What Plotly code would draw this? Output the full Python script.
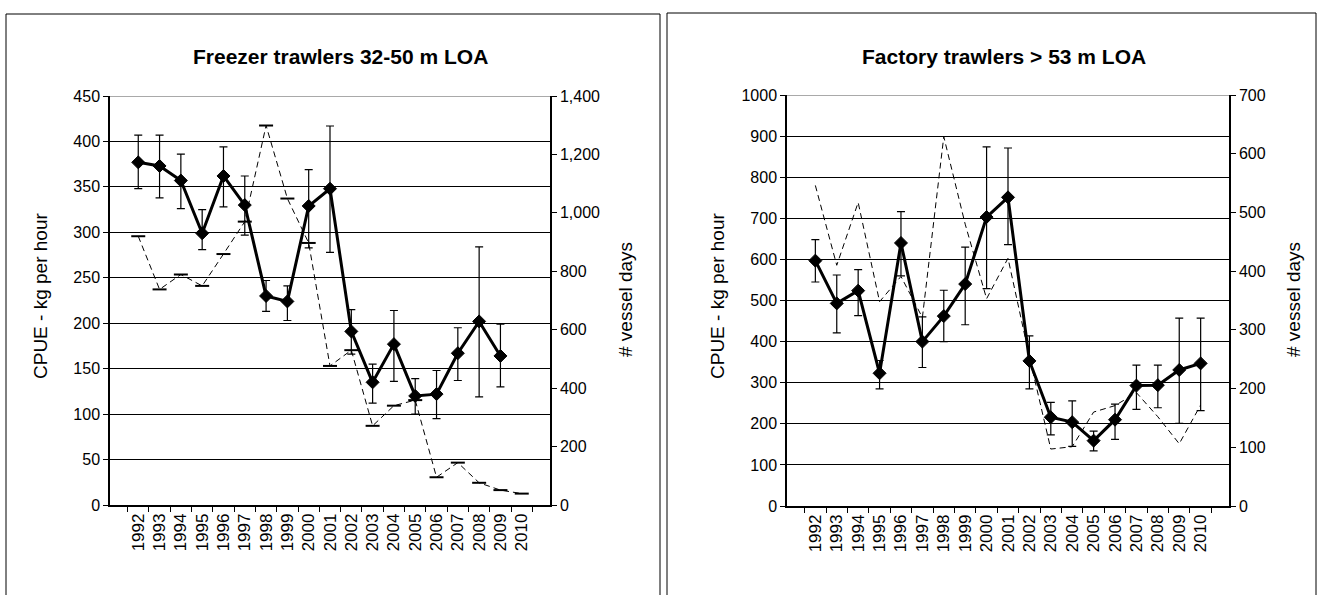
import plotly.graph_objects as go

years = [str(y) for y in range(1992, 2011)]

# Freezer trawlers 32-50 m LOA
freezer_cpue = [377, 373, 357, 299, 362, 330, 230, 224, 329, 348, 191, 135, 177, 120, 122, 167, 202, 164, None]
freezer_hi = [407, 407, 386, 325, 394, 362, 247, 241, 369, 417, 215, 155, 214, 139, 148, 195, 284, 199, None]
freezer_lo = [348, 338, 326, 281, 328, 297, 213, 203, 283, 278, 166, 112, 136, 100, 95, 137, 119, 130, None]
freezer_days = [920, 738, 789, 750, 859, 970, 1299, 1049, 897, 476, 530, 271, 340, 359, 95, 145, 76, 51, 39]

# Factory trawlers > 53 m LOA
factory_cpue = [597, 493, 524, 323, 640, 400, 462, 540, 703, 751, 353, 216, 204, 159, 210, 293, 294, 331, 347]
factory_hi = [648, 562, 575, 354, 716, 460, 525, 630, 874, 871, 414, 252, 256, 182, 248, 343, 343, 457, 457]
factory_lo = [545, 421, 463, 285, 560, 337, 400, 441, 529, 636, 285, 173, 145, 134, 162, 235, 239, 201, 232]
factory_days = [546, 410, 517, 348, 391, 321, 629, 480, 353, 422, 254, 97, 101, 160, 171, 193, 152, 106, 172]

left_ticks = list(range(0, 451, 50))
left_ticks2 = list(range(0, 1401, 200))
right_ticks = list(range(0, 1001, 100))
right_ticks2 = list(range(0, 701, 100))

W, H = 1320, 595
FONT = "Arial, Liberation Sans, sans-serif"
TICK = 16
XTICK = 17


def err(vals, hi, lo):
    plus = [None if v is None else h - v for v, h in zip(vals, hi)]
    minus = [None if v is None else v - l for v, l in zip(vals, lo)]
    return plus, minus


fig = go.Figure()

# ---- left chart ----
fig.add_trace(go.Scatter(
    x=years, y=freezer_days, xaxis="x", yaxis="y2", mode="lines+markers",
    line=dict(color="black", width=1, dash="6px,4px"),
    marker=dict(symbol="line-ew", size=10, line=dict(color="black", width=2)),
    showlegend=False, hoverinfo="skip"))
fp, fm = err(freezer_cpue, freezer_hi, freezer_lo)
fig.add_trace(go.Scatter(
    x=years, y=freezer_cpue, xaxis="x", yaxis="y", mode="lines+markers",
    line=dict(color="black", width=3),
    marker=dict(symbol="diamond", size=10, color="black", line=dict(color="black", width=1)),
    error_y=dict(type="data", symmetric=False, array=fp, arrayminus=fm,
                 color="black", thickness=1.2, width=4),
    showlegend=False))

# ---- right chart ----
fig.add_trace(go.Scatter(
    x=years, y=factory_days, xaxis="x2", yaxis="y4", mode="lines",
    line=dict(color="black", width=1, dash="6px,4px"),
    showlegend=False, hoverinfo="skip"))
gp, gm = err(factory_cpue, factory_hi, factory_lo)
fig.add_trace(go.Scatter(
    x=years, y=factory_cpue, xaxis="x2", yaxis="y3", mode="lines+markers",
    line=dict(color="black", width=3),
    marker=dict(symbol="diamond", size=10, color="black", line=dict(color="black", width=1)),
    error_y=dict(type="data", symmetric=False, array=gp, arrayminus=gm,
                 color="black", thickness=1.2, width=4),
    showlegend=False))

L1, R1 = 110, 550
L2, R2 = 787, 1229
T1, B1 = 96, 505
T2, B2 = 95, 506


def fx(p):
    return p / W


def fy(p):
    return 1 - p / H


xcommon = dict(type="category", tickangle=-90, ticks="outside", ticklen=5,
               tickson="boundaries", showline=True, linecolor="black", linewidth=1.5,
               showgrid=False, tickfont=dict(size=XTICK, color="black"),
               tickcolor="black", fixedrange=True, automargin=False)
ycommon = dict(ticks="outside", ticklen=5, showline=True, linecolor="black",
               linewidth=1.5, tickcolor="black", tickfont=dict(size=TICK, color="black"),
               zeroline=False, fixedrange=True, automargin=False)

fig.update_layout(
    width=W, height=H, margin=dict(l=0, r=0, t=0, b=0),
    paper_bgcolor="white", plot_bgcolor="white",
    font=dict(family=FONT, color="black"),
    xaxis=dict(domain=[fx(L1), fx(R1)], anchor="y", **xcommon),
    yaxis=dict(domain=[fy(B1), fy(T1)], anchor="x", range=[0, 450], tickvals=left_ticks,
               showgrid=True, gridcolor="black", gridwidth=1, **ycommon),
    yaxis2=dict(overlaying="y", side="right", anchor="x", range=[0, 1400],
                tickvals=left_ticks2, tickformat=",", showgrid=False, **ycommon),
    xaxis2=dict(domain=[fx(L2), fx(R2)], anchor="y3", **xcommon),
    yaxis3=dict(domain=[fy(B2), fy(T2)], anchor="x2", range=[0, 1000], tickvals=right_ticks,
                showgrid=True, gridcolor="black", gridwidth=1, **ycommon),
    yaxis4=dict(overlaying="y3", side="right", anchor="x2", range=[0, 700],
                tickvals=right_ticks2, showgrid=False, **ycommon),
    shapes=[
        dict(type="rect", xref="paper", yref="paper", x0=fx(6), x1=fx(660), y0=-0.02, y1=fy(14),
             line=dict(color="black", width=1), layer="below"),
        dict(type="rect", xref="paper", yref="paper", x0=fx(667), x1=fx(1316), y0=-0.02, y1=fy(13),
             line=dict(color="black", width=1), layer="below"),
        dict(type="line", xref="x domain", yref="y", x0=0, x1=1, y0=450, y1=450,
             line=dict(color="#8c8c8c", width=1.5)),
        dict(type="line", xref="x2 domain", yref="y3", x0=0, x1=1, y0=1000, y1=1000,
             line=dict(color="#8c8c8c", width=1.5)),
    ],
    annotations=[
        dict(text="<b>Freezer trawlers 32-50 m LOA</b>", xref="paper", yref="paper",
             x=fx(340), y=fy(57), xanchor="center", yanchor="middle", showarrow=False,
             font=dict(size=21, color="black")),
        dict(text="<b>Factory trawlers > 53 m LOA</b>", xref="paper", yref="paper",
             x=fx(1004), y=fy(56), xanchor="center", yanchor="middle", showarrow=False,
             font=dict(size=21, color="black")),
        dict(text="CPUE - kg per hour", xref="paper", yref="paper", textangle=-90,
             x=fx(40), y=fy(296), xanchor="center", yanchor="middle", showarrow=False,
             font=dict(size=19, color="black")),
        dict(text="# vessel days", xref="paper", yref="paper", textangle=-90,
             x=fx(625), y=fy(300), xanchor="center", yanchor="middle", showarrow=False,
             font=dict(size=19, color="black")),
        dict(text="CPUE - kg per hour", xref="paper", yref="paper", textangle=-90,
             x=fx(717), y=fy(296), xanchor="center", yanchor="middle", showarrow=False,
             font=dict(size=19, color="black")),
        dict(text="# vessel days", xref="paper", yref="paper", textangle=-90,
             x=fx(1293), y=fy(300), xanchor="center", yanchor="middle", showarrow=False,
             font=dict(size=19, color="black")),
    ],
)

fig.write_html("out.html", config={"displayModeBar": False},
               post_script="document.body.style.margin='0';document.body.style.overflow='hidden';")
